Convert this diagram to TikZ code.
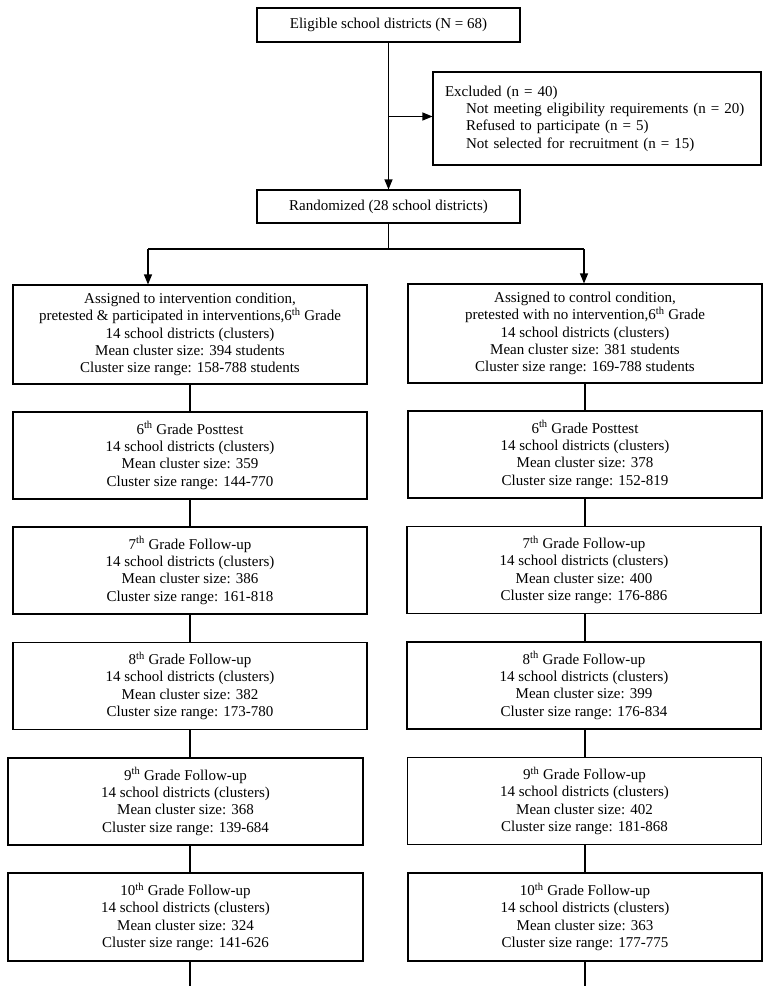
\documentclass[tikz,border=0pt]{standalone}
\usepackage{fontspec}
\setmainfont{Liberation Serif}
\usetikzlibrary{arrows.meta}
\begin{document}
\begin{tikzpicture}[x=1pt,y=-1pt,
  every node/.style={font=\fontsize{15}{17.3}\selectfont},
  box/.style={draw=black,line width=1.1pt,align=center,inner sep=0pt,minimum width=354pt,minimum height=87pt},
  conn/.style={draw=black,line width=1.1pt},
  arr/.style={conn,-{Triangle[length=10pt,width=8pt]}}]
\useasboundingbox (0,0) rectangle (771,996);
% top part
\node[box,minimum width=263pt,minimum height=34pt] (top) at (388.5,25) {Eligible school districts (N = 68)};
\node[draw=black,line width=1.1pt,align=left,text width=304pt,inner xsep=12pt,inner ysep=0pt,minimum height=93pt] (excl) at (597,118.5)
  {Excluded (n = 40)\\
   \hspace*{21pt}Not meeting eligibility requirements (n = 20)\\
   \hspace*{21pt}Refused to participate (n = 5)\\
   \hspace*{21pt}Not selected for recruitment (n = 15)};
\node[box,minimum width=263pt,minimum height=33pt] (rand) at (388.5,206.5) {Randomized (28 school districts)};
% assigned
\node[box,minimum height=99pt] (L0) at (190,334.5) {Assigned to intervention condition,\\pretested \& participated in interventions,6\textsuperscript{th} Grade\\14 school districts (clusters)\\Mean cluster size: 394 students\\Cluster size range: 158-788 students};
\node[box,minimum height=99pt] (R0) at (585,333.5) {Assigned to control condition,\\pretested with no intervention,6\textsuperscript{th} Grade\\14 school districts (clusters)\\Mean cluster size: 381 students\\Cluster size range: 169-788 students};
% left column
\node[box] (L1) at (190,455.5) {6\textsuperscript{th} Grade Posttest\\14 school districts (clusters)\\Mean cluster size: 359\\Cluster size range: 144-770};
\node[box] (L2) at (190,570.5) {7\textsuperscript{th} Grade Follow-up\\14 school districts (clusters)\\Mean cluster size: 386\\Cluster size range: 161-818};
\node[box] (L3) at (190,686) {8\textsuperscript{th} Grade Follow-up\\14 school districts (clusters)\\Mean cluster size: 382\\Cluster size range: 173-780};
\node[box,minimum width=355pt] (L4) at (185.5,801.5) {9\textsuperscript{th} Grade Follow-up\\14 school districts (clusters)\\Mean cluster size: 368\\Cluster size range: 139-684};
\node[box,minimum width=355pt,minimum height=88pt] (L5) at (185.5,917) {10\textsuperscript{th} Grade Follow-up\\14 school districts (clusters)\\Mean cluster size: 324\\Cluster size range: 141-626};
% right column
\node[box] (R1) at (585,454.5) {6\textsuperscript{th} Grade Posttest\\14 school districts (clusters)\\Mean cluster size: 378\\Cluster size range: 152-819};
\node[box] (R2) at (584,570) {7\textsuperscript{th} Grade Follow-up\\14 school districts (clusters)\\Mean cluster size: 400\\Cluster size range: 176-886};
\node[box] (R3) at (584,685.5) {8\textsuperscript{th} Grade Follow-up\\14 school districts (clusters)\\Mean cluster size: 399\\Cluster size range: 176-834};
\node[box] (R4) at (584.5,801) {9\textsuperscript{th} Grade Follow-up\\14 school districts (clusters)\\Mean cluster size: 402\\Cluster size range: 181-868};
\node[box,minimum height=88pt] (R5) at (585,917) {10\textsuperscript{th} Grade Follow-up\\14 school districts (clusters)\\Mean cluster size: 363\\Cluster size range: 177-775};
% coordinates
\coordinate (br) at (388.5,116.5);
\coordinate (sL) at (148,249);
\coordinate (sR) at (584,249);
\coordinate (xl) at (190,0);
\coordinate (xr) at (585,0);
\coordinate (endL) at (190,986);
\coordinate (endR) at (585,986);
% connectors
\draw[arr] (top) -- (rand);
\draw[arr] (br) -- (br -| excl.west);
\draw[conn] (rand.south) -- (rand.south |- sL);
\draw[conn] (sL) -- (sR);
\draw[arr] (sL) -- (sL |- L0.north);
\draw[arr] (sR) -- (sR |- R0.north);
\foreach \a/\b in {L0/L1,L1/L2,L2/L3,L3/L4,L4/L5}
  \draw[conn] (xl |- \a.south) -- (xl |- \b.north);
\foreach \a/\b in {R0/R1,R1/R2,R2/R3,R3/R4,R4/R5}
  \draw[conn] (xr |- \a.south) -- (xr |- \b.north);
\draw[conn] (xl |- L5.south) -- (endL);
\draw[conn] (xr |- R5.south) -- (endR);
\end{tikzpicture}
\end{document}
